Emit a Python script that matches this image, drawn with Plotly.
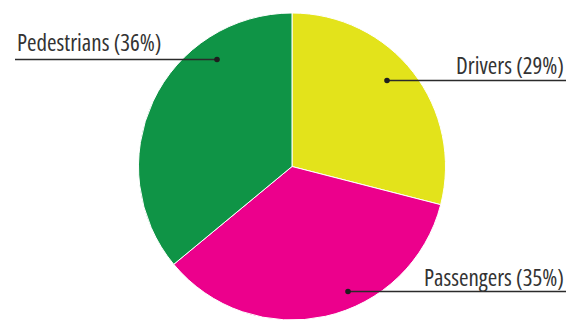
import plotly.graph_objects as go

W, H = 579, 320

# Share of road deaths by road user type
labels = ["Drivers", "Passengers", "Pedestrians"]
shares = [29, 35, 36]
colors = ["#E3E31B", "#EC008C", "#0F9446"]

# Leader-line layout (pixel coordinates on the overlay axes)
dot_x = [387, 348, 217]
dot_y = [80.5, 291.5, 59.5]
line_end_x = [566, 566, 15]
text_x = [566, 566, 15]
text_y = [64.5, 277, 41.5]
text_anchor = ["right", "right", "left"]

cx, cy, r = 292, 166.5, 153.5

fig = go.Figure()
fig.add_trace(go.Pie(
    labels=labels,
    values=shares,
    sort=False,
    direction="clockwise",
    rotation=0,
    marker=dict(colors=colors, line=dict(color="white", width=1)),
    textinfo="none",
    hoverinfo="label+percent",
    showlegend=False,
    domain=dict(x=[(cx - r) / W, (cx + r) / W], y=[(H - cy - r) / H, (H - cy + r) / H]),
))

for i in range(len(labels)):
    fig.add_shape(type="line", xref="x", yref="y",
                  x0=dot_x[i], x1=line_end_x[i], y0=dot_y[i], y1=dot_y[i],
                  line=dict(color="#2b2b2b", width=1.6), layer="above")
    fig.add_shape(type="circle", xref="x", yref="y",
                  x0=dot_x[i] - 2.8, x1=dot_x[i] + 2.8, y0=dot_y[i] - 2.8, y1=dot_y[i] + 2.8,
                  fillcolor="#1e1e1e", line=dict(width=0), layer="above")

for i, lab in enumerate(labels):
    fig.add_annotation(
        x=text_x[i], y=text_y[i], xref="x", yref="y",
        text=f'<span style="font-stretch:condensed">{lab} ({shares[i]}%)</span>',
        showarrow=False,
        xanchor=text_anchor[i], yanchor="middle",
        font=dict(family="Open Sans", size=23, color="#333333"),
    )

fig.update_layout(
    width=W, height=H,
    margin=dict(l=0, r=0, t=0, b=0),
    paper_bgcolor="white", plot_bgcolor="rgba(0,0,0,0)",
    xaxis=dict(range=[0, W], visible=False, fixedrange=True),
    yaxis=dict(range=[H, 0], visible=False, fixedrange=True),
)

fig.write_html("out.html")
